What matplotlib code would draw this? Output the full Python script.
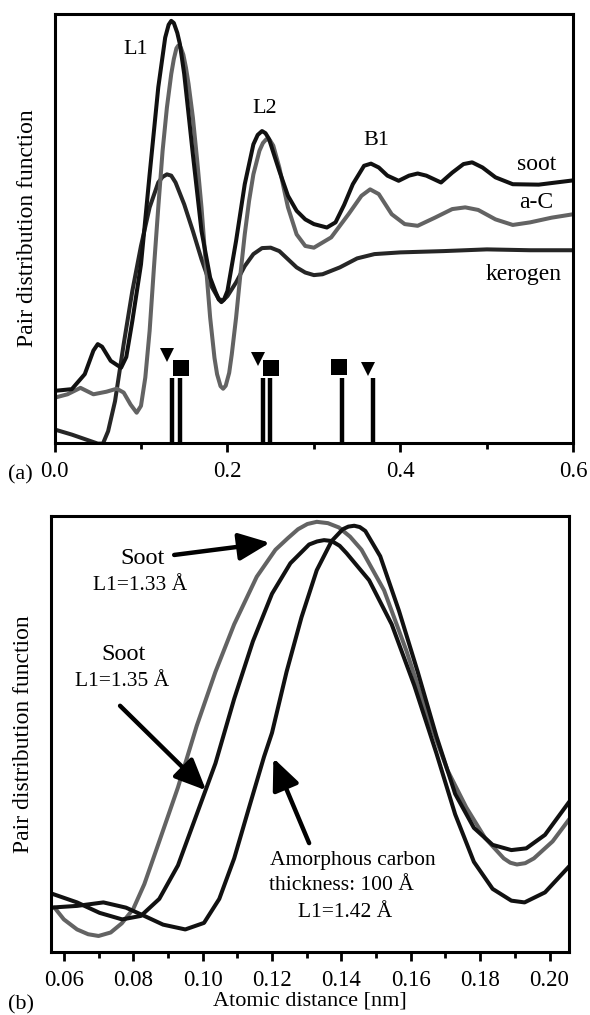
import matplotlib
matplotlib.use("Agg")
import matplotlib.pyplot as plt
from matplotlib.ticker import MultipleLocator

plt.rcParams["font.family"] = ["Liberation Serif", "DejaVu Serif"]

# ---- panel (a): pair distribution functions (y in % of axis height) ----
soot_x = [0.0, 0.02, 0.035, 0.045, 0.05, 0.055, 0.065, 0.077, 0.083, 0.09, 0.10, 0.11,
          0.12, 0.128, 0.132, 0.135, 0.138, 0.142, 0.145, 0.15, 0.155, 0.16, 0.17,
          0.18, 0.186, 0.19, 0.193, 0.196, 0.20, 0.21, 0.22, 0.23, 0.235, 0.24, 0.244,
          0.248, 0.255, 0.26, 0.27, 0.28, 0.29, 0.30, 0.315, 0.325, 0.335, 0.345,
          0.358, 0.366, 0.375, 0.385, 0.398, 0.41, 0.42, 0.43, 0.447, 0.46, 0.473,
          0.483, 0.495, 0.51, 0.53, 0.56, 0.60]
soot_y = [12.1, 12.5, 16.0, 21.5, 23.0, 22.4, 19.1, 17.5, 20.0, 28.4, 41.6, 62.6,
          82.9, 94.5, 97.5, 98.4, 97.9, 95.6, 93.0, 86.0, 76.7, 67.3, 49.4,
          38.5, 35.3, 33.4, 32.8, 33.4, 35.4, 47.1, 60.3, 69.6, 71.8, 72.7, 72.2,
          70.9, 66.5, 63.4, 57.6, 54.1, 52.1, 51.0, 50.2, 51.4, 55.5, 60.3,
          64.6, 65.1, 64.2, 62.3, 61.1, 62.3, 62.8, 62.3, 60.7, 63.0, 65.0,
          65.4, 64.2, 61.9, 60.3, 60.2, 61.2]

ac_x = [0.0, 0.015, 0.03, 0.045, 0.06, 0.072, 0.08, 0.088, 0.095, 0.10, 0.105, 0.11,
        0.115, 0.12, 0.125, 0.13, 0.135, 0.138, 0.141, 0.143, 0.146, 0.149, 0.152,
        0.155, 0.16, 0.165, 0.17, 0.175, 0.18, 0.185, 0.188, 0.192, 0.195, 0.198,
        0.202, 0.205, 0.21, 0.215, 0.22, 0.225, 0.23, 0.237, 0.241, 0.245, 0.249,
        0.253, 0.26, 0.265, 0.27, 0.28, 0.29, 0.30, 0.32, 0.34, 0.355, 0.365, 0.375,
        0.39, 0.405, 0.42, 0.44, 0.46, 0.475, 0.49, 0.51, 0.53, 0.55, 0.575, 0.60]
ac_y = [10.5, 11.3, 12.8, 11.3, 11.9, 12.6, 11.7, 8.9, 7.0, 8.6, 15.2, 26.1,
        40.9, 54.9, 68.1, 78.2, 86.0, 89.5, 92.0, 92.6, 92.2, 90.5, 87.5,
        83.7, 75.9, 65.8, 54.9, 41.6, 29.2, 19.8, 16.0, 13.2, 12.6, 13.3,
        16.3, 20.6, 29.2, 39.3, 48.6, 56.4, 62.6, 68.1, 69.9, 70.8, 70.6,
        69.3, 64.2, 59.5, 54.9, 48.6, 45.9, 45.5, 47.9, 53.3, 57.6, 59.1, 58.0,
        53.3, 51.0, 50.6, 52.5, 54.5, 54.9, 54.3, 52.1, 50.8, 51.4, 52.5, 53.3]

ker_x = [0.0, 0.02, 0.04, 0.05, 0.056, 0.062, 0.07, 0.08, 0.09, 0.10, 0.11, 0.12,
         0.125, 0.13, 0.135, 0.14, 0.15, 0.16, 0.17, 0.18, 0.19, 0.195, 0.20, 0.21,
         0.22, 0.23, 0.24, 0.25, 0.26, 0.27, 0.28, 0.29, 0.30, 0.31, 0.33, 0.35,
         0.37, 0.40, 0.45, 0.50, 0.55, 0.60]
ker_y = [3.1, 1.9, 0.5, -0.2, -0.2, 2.7, 9.7, 23.0, 35.4, 45.9, 54.9, 60.7,
         62.0, 62.6, 62.3, 60.7, 55.6, 49.4, 42.8, 37.0, 33.5, 33.2, 34.2, 37.4,
         41.2, 44.0, 45.4, 45.5, 44.7, 42.8, 40.9, 39.7, 39.1, 39.3, 40.9, 43.0,
         44.0, 44.4, 44.7, 45.1, 44.9, 44.9]

# reference bond distances (sticks) and their symbols
stick_x = [0.136, 0.145, 0.2415, 0.249, 0.332, 0.368]
stick_h = 15.0
tri_x = [0.130, 0.235, 0.363]
tri_y = [20.5, 19.5, 17.2]
sq_x = [0.146, 0.250, 0.329]
sq_y = [17.4, 17.4, 17.7]

# ---- panel (b): first peak close-up ----
c133_x = [0.0573, 0.06, 0.0638, 0.067, 0.070, 0.0735, 0.0767, 0.080, 0.0832, 0.0875,
          0.0929, 0.0983, 0.1037, 0.1091, 0.1156, 0.121, 0.1245, 0.1275, 0.1302,
          0.1329, 0.1361, 0.1393, 0.1425, 0.1458, 0.1523, 0.1588, 0.1652, 0.1706,
          0.176, 0.1814, 0.1868, 0.1887, 0.1906, 0.193, 0.1955, 0.2009, 0.2057]
c133_y = [10.1, 7.4, 5.1, 4.0, 3.6, 4.4, 6.5, 9.8, 15.5, 25.3,
          37.7, 51.8, 64.2, 75.1, 86.0, 92.2, 94.8, 96.9, 98.1,
          98.6, 98.3, 97.3, 95.2, 92.2, 82.9, 68.9, 53.3, 41.6,
          33.1, 26.1, 21.4, 20.4, 20.0, 20.3, 21.4, 25.3, 30.4]

c135_x = [0.0562, 0.0638, 0.0703, 0.0768, 0.0822, 0.0875, 0.0929, 0.0983, 0.1037,
          0.1091, 0.1145, 0.12, 0.1253, 0.1307, 0.133, 0.135, 0.1372, 0.1395, 0.1415,
          0.148, 0.1545, 0.161, 0.1674, 0.1728, 0.1782, 0.1836, 0.189, 0.1928,
          0.1987, 0.2057]
c135_y = [13.4, 11.3, 8.9, 7.4, 8.2, 12.1, 19.8, 31.5, 43.2,
          58.0, 71.2, 82.1, 89.1, 93.4, 94.1, 94.4, 94.2, 93.1, 91.4,
          85.2, 75.1, 61.1, 45.5, 31.5, 20.6, 14.4, 11.7, 11.3,
          13.6, 19.6]

c142_x = [0.0562, 0.0638, 0.0714, 0.0779, 0.0832, 0.0886, 0.095, 0.1004, 0.1048,
          0.1091, 0.1134, 0.1177, 0.12, 0.1242, 0.1285, 0.1329, 0.1372, 0.1404,
          0.142, 0.1437, 0.1453, 0.1469, 0.1512, 0.1566, 0.162, 0.1674, 0.1728,
          0.1782, 0.1836, 0.189, 0.1933, 0.1987, 0.2057]
c142_y = [10.1, 10.5, 11.3, 10.1, 8.2, 6.2, 5.1, 6.6, 12.1,
          21.4, 33.1, 44.7, 50.2, 64.2, 76.7, 87.5, 94.2, 96.9,
          97.5, 97.7, 97.4, 96.5, 90.7, 78.2, 64.2, 49.4, 36.2,
          28.4, 24.5, 23.3, 23.7, 26.8, 34.4]

fig = plt.figure(figsize=(5.9, 10.15), dpi=100)
ax1 = fig.add_axes([0.0924, 0.5638, 0.8793, 0.4224])
ax2 = fig.add_axes([0.0859, 0.0624, 0.8790, 0.4295])

black = "#111111"
grey = "#636363"
dark = "#262626"

line_kw = dict(lw=2.9, solid_joinstyle="round", solid_capstyle="round")

# panel (a)
ax1.plot(ker_x, ker_y, color=dark, **line_kw)
ax1.plot(ac_x, ac_y, color=grey, **line_kw)
ax1.plot(soot_x, soot_y, color=black, **line_kw)
ax1.vlines(stick_x, 0, stick_h, color="black", lw=3.2)
ax1.plot(tri_x, tri_y, "v", color="black", ms=10, mew=0)
ax1.plot(sq_x, sq_y, "s", color="black", ms=11, mew=0)

ax1.text(0.0934, 91.8, "L1", fontsize=16, ha="center", va="center")
ax1.text(0.2432, 78.0, "L2", fontsize=16, ha="center", va="center")
ax1.text(0.372, 70.4, "B1", fontsize=16, ha="center", va="center")
ax1.text(0.5576, 65.0, "soot", fontsize=17, ha="center", va="center")
ax1.text(0.5576, 56.0, "a-C", fontsize=17, ha="center", va="center")
ax1.text(0.5424, 39.3, "kerogen", fontsize=17, ha="center", va="center")

ax1.set_xlim(0.0, 0.6)
ax1.set_ylim(0, 100)
ax1.xaxis.set_major_locator(MultipleLocator(0.2))
ax1.xaxis.set_minor_locator(MultipleLocator(0.1))
ax1.xaxis.set_major_formatter(plt.FormatStrFormatter("%.1f"))
ax1.set_yticks([])
ax1.set_ylabel("Pair distribution function", fontsize=17, labelpad=12)

# panel (b)
ax2.plot(c133_x, c133_y, color=grey, **line_kw)
ax2.plot(c135_x, c135_y, color=black, **line_kw)
ax2.plot(c142_x, c142_y, color=black, **line_kw)

ax2.text(0.0827, 90.3, "Soot", fontsize=17.5, ha="center", va="center")
ax2.text(0.0821, 84.0, "L1=1.33 Å", fontsize=15.5, ha="center", va="center")
ax2.text(0.0773, 68.1, "Soot", fontsize=17.5, ha="center", va="center")
ax2.text(0.0769, 61.9, "L1=1.35 Å", fontsize=15.5, ha="center", va="center")
ax2.text(0.1433, 21.0, "Amorphous carbon", fontsize=15.5, ha="center", va="center")
ax2.text(0.1399, 15.2, "thickness: 100 Å", fontsize=15.5, ha="center", va="center")
ax2.text(0.1410, 8.9, "L1=1.42 Å", fontsize=15.5, ha="center", va="center")

arrow = dict(arrowstyle="-|>,head_length=0.95,head_width=0.42", lw=3.2,
             color="black", shrinkA=0, shrinkB=0, mutation_scale=20)
ax2.annotate("", xy=(0.1194, 93.8), xytext=(0.0918, 91.0), arrowprops=arrow)
ax2.annotate("", xy=(0.1010, 37.0), xytext=(0.0762, 56.4), arrowprops=arrow)
ax2.annotate("", xy=(0.1204, 44.4), xytext=(0.1307, 24.9), arrowprops=arrow)

ax2.set_xlim(0.0562, 0.2057)
ax2.set_ylim(0, 100)
ax2.xaxis.set_major_locator(MultipleLocator(0.02))
ax2.xaxis.set_minor_locator(MultipleLocator(0.01))
ax2.xaxis.set_major_formatter(plt.FormatStrFormatter("%.2f"))
ax2.set_yticks([])
ax2.set_ylabel("Pair distribution function", fontsize=17, labelpad=12)
ax2.set_xlabel("Atomic distance [nm]", fontsize=16, labelpad=0)

for ax in (ax1, ax2):
    for sp in ax.spines.values():
        sp.set_linewidth(2.2)
    ax.tick_params(axis="x", which="major", direction="out", length=6.5, width=2,
                   labelsize=16.5, pad=7)
    ax.tick_params(axis="x", which="minor", direction="out", length=4, width=2)

fig.text(0.034, 0.532, "(a)", fontsize=16, ha="center", va="center")
fig.text(0.035, 0.010, "(b)", fontsize=16, ha="center", va="center")

fig.savefig("out.png", dpi=100)
